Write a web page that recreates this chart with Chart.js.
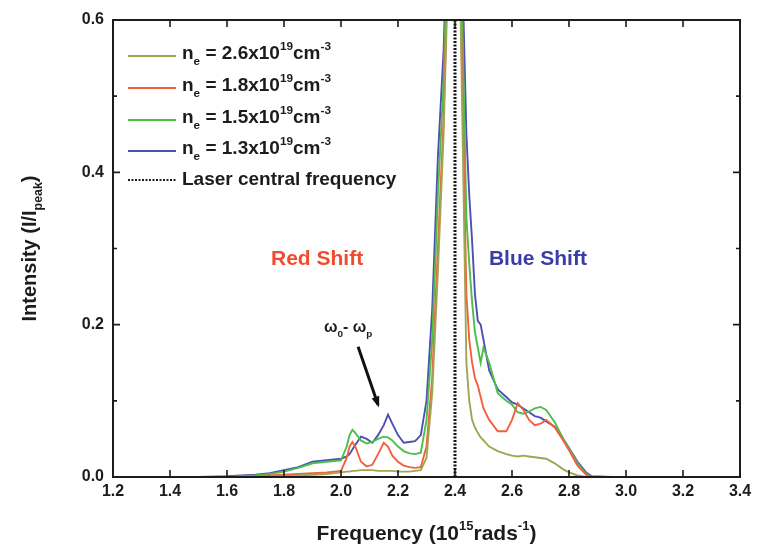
<!DOCTYPE html>
<html>
<head>
<meta charset="utf-8">
<script src="https://cdn.jsdelivr.net/npm/chart.js@4/dist/chart.umd.min.js"></script>
<style>
  html, body { margin: 0; padding: 0; background: #fff; }
  #wrap { width: 769px; height: 549px; position: relative; }
</style>
</head>
<body>
<div id="wrap"><canvas id="espectro"></canvas></div>
<script>
// frecuencia en 10^15 rad/s
const frequency = [1.50, 1.60, 1.70, 1.75, 1.80, 1.85, 1.90, 1.95, 2.00, 2.02, 2.03, 2.04, 2.05, 2.07, 2.09, 2.11,
  2.13, 2.15, 2.165, 2.18, 2.20, 2.22, 2.24, 2.26, 2.28, 2.30, 2.32, 2.34, 2.36, 2.38, 2.40, 2.42,
  2.44, 2.45, 2.46, 2.47, 2.48, 2.49, 2.50, 2.52, 2.55, 2.58, 2.60, 2.62, 2.64, 2.66, 2.68, 2.70,
  2.72, 2.75, 2.78, 2.80, 2.83, 2.86, 2.88, 2.95, 3.00];

// intensidad I/Ipeak para cada densidad electronica
const intensity26 = [0, 0, 0, 0, 0.001, 0.002, 0.003, 0.004, 0.006, 0.007, 0.007, 0.008, 0.008, 0.009, 0.009, 0.009,
  0.008, 0.008, 0.008, 0.008, 0.007, 0.007, 0.007, 0.008, 0.009, 0.025, 0.11, 0.27, 0.45, 0.72, 1.0, 0.6,
  0.15, 0.1, 0.075, 0.065, 0.058, 0.052, 0.048, 0.04, 0.034, 0.03, 0.028, 0.027, 0.028, 0.027, 0.026, 0.025,
  0.024, 0.018, 0.01, 0.006, 0.002, 0, 0, 0, 0];
const intensity18 = [0, 0, 0.001, 0.002, 0.003, 0.004, 0.005, 0.006, 0.008, 0.025, 0.04, 0.046, 0.04, 0.02, 0.014, 0.016,
  0.03, 0.045, 0.04, 0.028, 0.02, 0.015, 0.013, 0.012, 0.013, 0.04, 0.13, 0.3, 0.47, 0.75, 1.0, 0.62,
  0.24, 0.18, 0.15, 0.13, 0.12, 0.105, 0.09, 0.075, 0.06, 0.06, 0.075, 0.097, 0.088, 0.075, 0.068, 0.07,
  0.075, 0.065, 0.048, 0.035, 0.015, 0.003, 0, 0, 0];
const intensity15 = [0, 0, 0.002, 0.004, 0.007, 0.012, 0.018, 0.02, 0.022, 0.04, 0.055, 0.062, 0.058, 0.048, 0.044, 0.046,
  0.05, 0.053, 0.052, 0.048, 0.04, 0.034, 0.031, 0.03, 0.032, 0.075, 0.18, 0.37, 0.52, 0.78, 1.0, 0.7,
  0.34, 0.28, 0.23, 0.19, 0.17, 0.15, 0.17, 0.15, 0.11, 0.1, 0.095, 0.085, 0.083, 0.086, 0.09, 0.092,
  0.088, 0.072, 0.05, 0.037, 0.018, 0.004, 0, 0, 0];
const intensity13 = [0, 0.001, 0.003, 0.005, 0.009, 0.013, 0.02, 0.022, 0.024, 0.027, 0.03, 0.036, 0.042, 0.053, 0.05, 0.045,
  0.055, 0.068, 0.082, 0.07, 0.055, 0.045, 0.046, 0.047, 0.055, 0.1, 0.22, 0.42, 0.56, 0.8, 1.0, 0.75,
  0.45, 0.37, 0.31, 0.24, 0.205, 0.2, 0.18, 0.14, 0.115, 0.105, 0.098, 0.095, 0.09, 0.085, 0.08, 0.078,
  0.073, 0.066, 0.05, 0.038, 0.02, 0.006, 0.001, 0, 0];

const densities = ["2.6", "1.8", "1.5", "1.3"];
const colores = ["#a0a554", "#f2603c", "#4cbf4a", "#4f4fb3"];
const laserFrequency = 2.4;

const xTicks = { min: 1.2, max: 3.4, step: 0.2 };
const yTicks = { min: 0, max: 0.6, step: 0.1 };

const fuente = "'Liberation Sans', Arial, sans-serif";
const tinta = "#1c1c1c";

function puntos(serie) {
  return frequency.map((f, i) => ({ x: f, y: serie[i] }));
}

// dibuja texto con subindices (s = -1) y superindices (s = 1)
function textoRico(ctx, partes, x, y, size, align) {
  const medir = (p) => {
    ctx.font = "bold " + (p.s ? size * 0.62 : size) + "px " + fuente;
    return ctx.measureText(p.t).width;
  };
  const total = partes.reduce((a, p) => a + medir(p), 0);
  let cx = align === "center" ? x - total / 2 : x;
  ctx.textBaseline = "middle";
  ctx.textAlign = "left";
  partes.forEach((p) => {
    const w = medir(p);
    const dy = p.s === 1 ? -size * 0.38 : p.s === -1 ? size * 0.42 : 0;
    ctx.fillText(p.t, cx, y + dy);
    cx += w;
  });
}

const decoraciones = {
  id: "decoraciones",
  afterDatasetsDraw(chart) {
    const { ctx, chartArea: a, scales } = chart;
    ctx.save();
    ctx.strokeStyle = tinta;
    ctx.lineWidth = 2;
    ctx.strokeRect(a.left, a.top, a.right - a.left, a.bottom - a.top);
    ctx.lineWidth = 1.6;
    ctx.beginPath();
    scales.x.ticks.forEach((t) => {
      const px = scales.x.getPixelForValue(t.value);
      ctx.moveTo(px, a.bottom); ctx.lineTo(px, a.bottom - 7);
      ctx.moveTo(px, a.top); ctx.lineTo(px, a.top + 7);
    });
    scales.y.ticks.forEach((t) => {
      const py = scales.y.getPixelForValue(t.value);
      const len = Math.round(t.value * 10) % 2 === 0 ? 7 : 4;
      ctx.moveTo(a.left, py); ctx.lineTo(a.left + len, py);
      ctx.moveTo(a.right, py); ctx.lineTo(a.right - len, py);
    });
    ctx.stroke();
    ctx.restore();
  },
  afterDraw(chart) {
    const { ctx, chartArea: a, scales } = chart;
    const X = (v) => scales.x.getPixelForValue(v);
    const Y = (v) => scales.y.getPixelForValue(v);
    ctx.save();

    // leyenda
    const filas = [56, 88, 120, 151, 180];
    densities.forEach((d, i) => {
      ctx.strokeStyle = colores[i];
      ctx.lineWidth = 1.9;
      ctx.setLineDash([]);
      ctx.beginPath();
      ctx.moveTo(128, filas[i]); ctx.lineTo(176, filas[i]);
      ctx.stroke();
      ctx.fillStyle = tinta;
      textoRico(ctx, [
        { t: "n" }, { t: "e", s: -1 }, { t: " = " + d + "x10" }, { t: "19", s: 1 },
        { t: "cm" }, { t: "-3", s: 1 }
      ], 182, filas[i] - 2, 19, "left");
    });
    ctx.strokeStyle = tinta;
    ctx.lineWidth = 2;
    ctx.setLineDash([2, 1.5]);
    ctx.beginPath();
    ctx.moveTo(128, filas[4]); ctx.lineTo(176, filas[4]);
    ctx.stroke();
    ctx.setLineDash([]);
    textoRico(ctx, [{ t: "Laser central frequency" }], 182, filas[4], 19, "left");

    // titulos de los ejes
    textoRico(ctx, [{ t: "Frequency (10" }, { t: "15", s: 1 }, { t: "rads" }, { t: "-1", s: 1 }, { t: ")" }],
      (a.left + a.right) / 2, 534, 21, "center");
    ctx.save();
    ctx.translate(30, (a.top + a.bottom) / 2);
    ctx.rotate(-Math.PI / 2);
    textoRico(ctx, [{ t: "Intensity (I/I" }, { t: "peak", s: -1 }, { t: ")" }], 0, 0, 20, "center");
    ctx.restore();

    // notas
    ctx.font = "bold 21px " + fuente;
    ctx.textAlign = "center";
    ctx.textBaseline = "middle";
    ctx.fillStyle = "#f24a2c";
    ctx.fillText("Red Shift", X(1.916), Y(0.286));
    ctx.fillStyle = "#3c3ca8";
    ctx.fillText("Blue Shift", X(2.691), Y(0.286));

    ctx.fillStyle = tinta;
    textoRico(ctx, [{ t: "\u03c9" }, { t: "0", s: -1 }, { t: "- \u03c9" }, { t: "p", s: -1 }],
      X(2.025), Y(0.196), 16, "center");
    const x0 = X(2.06), y0 = Y(0.171), x1 = X(2.13), y1 = Y(0.095);
    ctx.strokeStyle = "#111";
    ctx.lineWidth = 3;
    ctx.beginPath();
    ctx.moveTo(x0, y0); ctx.lineTo(x1, y1);
    ctx.stroke();
    const ang = Math.atan2(y1 - y0, x1 - x0);
    ctx.fillStyle = "#111";
    ctx.beginPath();
    ctx.moveTo(x1 + 3 * Math.cos(ang), y1 + 3 * Math.sin(ang));
    ctx.lineTo(x1 - 8 * Math.cos(ang) + 4 * Math.sin(ang), y1 - 8 * Math.sin(ang) - 4 * Math.cos(ang));
    ctx.lineTo(x1 - 8 * Math.cos(ang) - 4 * Math.sin(ang), y1 - 8 * Math.sin(ang) + 4 * Math.cos(ang));
    ctx.closePath();
    ctx.fill();
    ctx.restore();
  }
};

const series = [intensity26, intensity18, intensity15, intensity13].map((serie, i) => ({
  label: "ne = " + densities[i] + "x10^19 cm^-3",
  data: puntos(serie),
  borderColor: colores[i],
  borderWidth: 1.9,
  pointRadius: 0,
  tension: 0,
}));
series.push({
  label: "Laser central frequency",
  data: [{ x: laserFrequency, y: yTicks.min }, { x: laserFrequency, y: yTicks.max }],
  borderColor: "#111",
  borderWidth: 3,
  borderDash: [2, 1.5],
  pointRadius: 0,
});

new Chart(document.querySelector("#espectro"), {
  type: "line",
  data: { datasets: series },
  options: {
    responsive: true,
    maintainAspectRatio: false,
    animation: false,
    layout: { padding: { left: 58, right: 29, top: 20, bottom: 47 } },
    plugins: { legend: { display: false }, tooltip: { enabled: false } },
    scales: {
      x: {
        type: "linear",
        min: xTicks.min,
        max: xTicks.max,
        grid: { display: false, drawTicks: false },
        border: { display: false },
        afterFit: (s) => { s.height = 25; },
        ticks: {
          stepSize: xTicks.step,
          autoSkip: false,
          maxRotation: 0,
          padding: 5,
          color: tinta,
          font: { family: fuente, size: 16, weight: "bold" },
          callback: (v) => v.toFixed(1),
        },
      },
      y: {
        min: yTicks.min,
        max: yTicks.max,
        grid: { display: false, drawTicks: false },
        border: { display: false },
        afterFit: (s) => { s.width = 55; },
        ticks: {
          stepSize: yTicks.step,
          padding: 9,
          color: tinta,
          font: { family: fuente, size: 16, weight: "bold" },
          callback: (v) => (Math.round(v * 10) % 2 === 0 ? v.toFixed(1) : ""),
        },
      },
    },
  },
  plugins: [decoraciones],
});
</script>
</body>
</html>
